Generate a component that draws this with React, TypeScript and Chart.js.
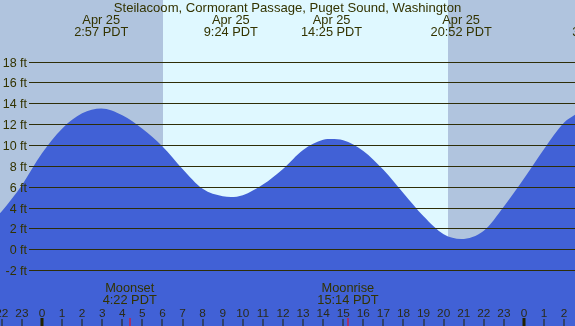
import React, { useEffect, useRef } from "react";
import { Chart, registerables } from "chart.js";

Chart.register(...registerables);

const title = "Steilacoom, Cormorant Passage, Puget Sound, Washington";

// hours since Apr 25 00:00 PDT, and tide height in feet
const tideHours = [-2.09, -2, -1, 0, 1, 2, 2.95, 4, 5, 6, 7, 8, 9, 9.4, 10, 11, 12, 13, 14, 14.42, 15, 16, 17, 18, 19, 20, 20.87, 22, 23, 24, 25, 26, 26.54];
const tideFeet = [3.45, 3.65, 6.15, 9.2, 11.57, 13.04, 13.5, 12.85, 11.55, 9.85, 7.7, 5.8, 5.08, 5.02, 5.19, 6.21, 7.71, 9.53, 10.5, 10.57, 10.45, 9.43, 7.62, 5.37, 3.16, 1.44, 0.99, 1.78, 4.11, 6.78, 9.62, 12.16, 12.9];

const extremeHours = [2.95, 9.4, 14.42, 20.87, 27.75];
const extremeDates = ["Apr 25", "Apr 25", "Apr 25", "Apr 25", "Apr 26"];
const extremeTimes = ["2:57 PDT", "9:24 PDT", "14:25 PDT", "20:52 PDT", "3:33 PDT"];

const feetTicks = [-2, 0, 2, 4, 6, 8, 10, 12, 14, 16, 18];
const hourTicks = [-2, -1, 0, 1, 2, 3, 4, 5, 6, 7, 8, 9, 10, 11, 12, 13, 14, 15, 16, 17, 18, 19, 20, 21, 22, 23, 24, 25, 26];

const sunriseHour = 6.03;
const sunsetHour = 20.22;

const moonNames = ["Moonset", "Moonrise"];
const moonHours = [4.367, 15.233];
const moonTimes = ["4:22 PDT", "15:14 PDT"];

const xMin = -2.09;
const xMax = 26.54;
const yMin = -7.35;
const yMax = 23.9;

const FONT = '"Liberation Sans", Arial, sans-serif';
const TEXT = "#333300";
const NIGHT = "#B0C4DE";
const DAY = "#DFF8FF";
const WATER = "#4161D6";

const decorPlugin = {
  id: "tideDecor",
  beforeDraw(chart: any) {
    const { ctx, width, height } = chart;
    const xs = chart.scales.x;
    ctx.save();
    ctx.fillStyle = NIGHT;
    ctx.fillRect(0, 0, width, height);
    const a = Math.round(xs.getPixelForValue(sunriseHour));
    const b = Math.round(xs.getPixelForValue(sunsetHour));
    ctx.fillStyle = DAY;
    ctx.fillRect(a, 0, b - a, height);
    ctx.restore();
  },
  afterDatasetsDraw(chart: any) {
    const { ctx, width, height } = chart;
    const xs = chart.scales.x;
    const ys = chart.scales.y;
    ctx.save();
    ctx.strokeStyle = "#2E2E08";
    ctx.lineWidth = 1;
    ctx.fillStyle = TEXT;
    ctx.font = `12.5px ${FONT}`;
    ctx.textAlign = "right";
    ctx.textBaseline = "alphabetic";
    feetTicks.forEach((f) => {
      const py = Math.round(ys.getPixelForValue(f)) + 0.5;
      ctx.beginPath();
      ctx.moveTo(29, py);
      ctx.lineTo(width, py);
      ctx.stroke();
      ctx.fillText(`${f} ft`, 27, py + 4);
    });
    ctx.textAlign = "center";
    ctx.font = `13.1px ${FONT}`;
    ctx.fillText(title, width / 2, 12);
    ctx.font = `12.8px ${FONT}`;
    extremeHours.forEach((h, i) => {
      const px = xs.getPixelForValue(h);
      ctx.fillText(extremeDates[i], px, 24);
      ctx.fillText(extremeTimes[i], px, 36);
    });
    moonHours.forEach((h, i) => {
      const px = xs.getPixelForValue(h);
      ctx.fillStyle = TEXT;
      ctx.fillText(moonNames[i], px, 292);
      ctx.fillText(moonTimes[i], px, 304);
      ctx.fillStyle = "#FF0000";
      ctx.fillRect(Math.round(px) - 0.5, 318, 1, height - 318);
    });
    ctx.font = `11.8px ${FONT}`;
    hourTicks.forEach((h) => {
      const px = xs.getPixelForValue(h);
      const label = String(((h % 24) + 24) % 24);
      ctx.fillStyle = "#2A2A18";
      ctx.fillText(label, px, 316.5);
      ctx.fillStyle = "#222200";
      if (label === "0") {
        ctx.fillRect(Math.round(px) - 1.5, 318, 3, height - 318);
      } else {
        ctx.fillRect(Math.round(px) - 0.5, 319, 1, height - 319);
      }
    });
    ctx.restore();
  },
};

export default function App() {
  const ref = useRef<HTMLCanvasElement | null>(null);
  useEffect(() => {
    if (!ref.current) return;
    const chart = new Chart(ref.current, {
      type: "line",
      data: {
        datasets: [
          {
            data: tideHours.map((h, i) => ({ x: h, y: tideFeet[i] })),
            fill: "start",
            backgroundColor: WATER,
            borderWidth: 0,
            borderColor: WATER,
            pointRadius: 0,
            cubicInterpolationMode: "monotone",
          },
        ],
      },
      options: {
        responsive: false,
        animation: false,
        layout: { padding: 0 },
        plugins: { legend: { display: false }, tooltip: { enabled: false }, title: { display: false } },
        scales: {
          x: { type: "linear", min: xMin, max: xMax, display: false },
          y: { type: "linear", min: yMin, max: yMax, display: false },
        },
      },
      plugins: [decorPlugin],
    } as any);
    return () => chart.destroy();
  }, []);
  return (
    <div style={{ position: "fixed", left: 0, top: 0, width: 575, height: 326 }}>
      <canvas ref={ref} width={575} height={326} style={{ display: "block" }} />
    </div>
  );
}
